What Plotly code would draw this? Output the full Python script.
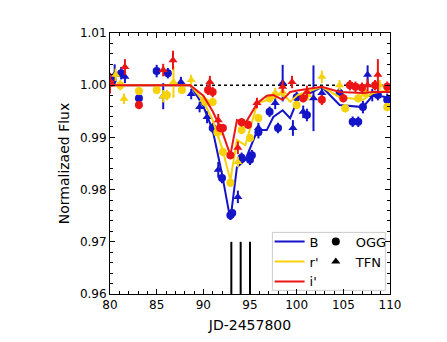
import plotly.graph_objects as go

# ---------------- model curves (lines) ----------------
model_t = [80.0, 88.6, 90.0, 91.0, 92.0, 92.9, 93.6, 94.5, 95.8, 96.8, 97.5, 98.5, 99.3, 100.1, 102.7, 104.6, 107.1, 108.2, 109.7, 110.0]
model_B = [1.0000, 1.0000, 0.9960, 0.9914, 0.9830, 0.9742, 0.9843, 0.9857, 0.9914, 0.9914, 0.9939, 0.9952, 0.9937, 0.9972, 0.9997, 0.9962, 0.9958, 0.9981, 0.9977, 0.9977]
model_r = [1.0000, 1.0000, 0.9970, 0.9933, 0.9880, 0.9818, 0.9895, 0.9885, 0.9966, 0.9972, 0.9975, 0.9985, 0.9968, 0.9981, 0.9997, 0.9977, 0.9972, 0.9985, 0.9991, 0.9991]
model_i = [1.0000, 1.0000, 0.9980, 0.9950, 0.9912, 0.9866, 0.9933, 0.9927, 0.9966, 0.9980, 0.9981, 0.9972, 0.9987, 0.9990, 0.9997, 0.9987, 0.9985, 0.9987, 0.9987, 0.9987]

# ---------------- observations ----------------
# B band, OGG (circles)
B_ogg_t = [80.3, 81.2, 83.1, 85.0, 86.2, 91.0, 92.0, 92.9, 93.1, 94.1, 95.0, 95.2, 95.9, 97.1, 98.0, 100.0, 101.1, 104.6, 106.0, 106.6, 107.1, 108.7, 109.7]
B_ogg_f = [1.0010, 1.0023, 0.9975, 1.0027, 1.0023, 0.9918, 0.9822, 0.9751, 0.9755, 0.9861, 0.9857, 0.9866, 0.9910, 0.9949, 0.9918, 0.9977, 0.9943, 0.9985, 0.9930, 0.9930, 0.9958, 0.9981, 0.9972]
B_ogg_e = [0.0012, 0.0012, 0.0010, 0.0012, 0.0010, 0.0010, 0.0010, 0.0008, 0.0008, 0.0010, 0.0010, 0.0010, 0.0012, 0.0010, 0.0010, 0.0010, 0.0012, 0.0010, 0.0010, 0.0010, 0.0012, 0.0010, 0.0012]
# B band, TFN (triangles)
B_tfn_t = [80.5, 81.6, 85.7, 87.6, 88.7, 89.6, 90.4, 91.6, 93.7, 95.9, 97.7, 98.5, 99.6, 100.7, 101.8, 102.7, 107.6, 108.1]
B_tfn_f = [1.0020, 1.0016, 0.9979, 1.0006, 0.9983, 0.9958, 0.9939, 0.9838, 0.9786, 0.9918, 0.9966, 1.0004, 0.9918, 0.9949, 0.9975, 0.9985, 1.0020, 0.9981]
B_tfn_e = [0.0020, 0.0012, 0.0025, 0.0010, 0.0010, 0.0010, 0.0012, 0.0015, 0.0012, 0.0010, 0.0012, 0.0035, 0.0015, 0.0012, 0.0063, 0.0010, 0.0018, 0.0012]

# r' band, OGG (circles)
r_ogg_t = [81.1, 83.1, 85.0, 86.1, 87.7, 90.2, 91.0, 91.5, 92.1, 92.9, 94.1, 95.0, 95.9, 97.1, 100.0, 105.2, 106.6, 107.3, 109.7]
r_ogg_f = [1.0000, 0.9989, 0.9991, 0.9981, 0.9991, 0.9968, 0.9968, 0.9910, 0.9872, 0.9813, 0.9914, 0.9899, 0.9937, 0.9975, 0.9962, 0.9956, 0.9975, 0.9985, 0.9958]
r_ogg_e = [0.0010, 0.0008, 0.0008, 0.0010, 0.0008, 0.0008, 0.0008, 0.0008, 0.0008, 0.0008, 0.0008, 0.0008, 0.0008, 0.0008, 0.0008, 0.0008, 0.0008, 0.0008, 0.0008]
# r' band, TFN (triangles)
r_tfn_t = [80.6, 81.5, 85.7, 86.8, 88.7, 90.0, 91.6, 93.7, 97.7, 98.5, 101.2, 102.7, 104.6, 108.9]
r_tfn_f = [1.0020, 0.9974, 0.9979, 1.0006, 1.0010, 0.9972, 0.9908, 0.9853, 0.9985, 0.9987, 0.9981, 1.0016, 1.0000, 1.0000]
r_tfn_e = [0.0012, 0.0010, 0.0012, 0.0030, 0.0010, 0.0010, 0.0010, 0.0010, 0.0010, 0.0010, 0.0010, 0.0012, 0.0010, 0.0010]

# i' band, OGG (circles)
i_ogg_t = [80.0, 83.1, 90.5, 91.0, 91.8, 92.1, 92.9, 94.1, 94.8, 100.7, 102.7, 105.0, 105.7, 106.3, 107.0, 108.4, 109.7]
i_ogg_f = [1.0004, 0.9962, 0.9991, 0.9987, 0.9918, 0.9918, 0.9866, 0.9929, 0.9924, 0.9975, 0.9972, 0.9975, 1.0000, 0.9997, 0.9995, 1.0000, 0.9997]
i_ogg_e = [0.0020, 0.0008, 0.0010, 0.0010, 0.0008, 0.0008, 0.0008, 0.0008, 0.0008, 0.0008, 0.0010, 0.0008, 0.0010, 0.0010, 0.0010, 0.0010, 0.0010]
# i' band, TFN (triangles)
i_tfn_t = [81.6, 85.7, 86.75, 90.7, 91.6, 93.7, 95.75, 98.5, 99.5, 101.1, 107.6, 108.7]
i_tfn_f = [1.0035, 1.0029, 1.0048, 1.0006, 0.9933, 0.9880, 0.9966, 0.9997, 1.0006, 0.9987, 1.0000, 1.0020]
i_tfn_e = [0.0015, 0.0012, 0.0018, 0.0012, 0.0012, 0.0012, 0.0010, 0.0012, 0.0012, 0.0012, 0.0012, 0.0030]

# vertical markers
event_t = [93.0, 94.0, 95.0]
event_bottom = 0.96
event_top = 0.97

band_names = ["B", "r'", "i'"]
band_colors = ["#1414c8", "#f7d20a", "#ec1515"]
station_names = ["OGG", "TFN"]

fig = go.Figure()

# reference dotted line at 1.0
fig.add_trace(go.Scatter(x=[80, 110], y=[1.0, 1.0], mode="lines",
                         line=dict(color="black", width=1.5, dash="dot"),
                         showlegend=False, hoverinfo="skip"))

models = [model_B, model_r, model_i]
obs = [
    [(B_ogg_t, B_ogg_f, B_ogg_e), (B_tfn_t, B_tfn_f, B_tfn_e)],
    [(r_ogg_t, r_ogg_f, r_ogg_e), (r_tfn_t, r_tfn_f, r_tfn_e)],
    [(i_ogg_t, i_ogg_f, i_ogg_e), (i_tfn_t, i_tfn_f, i_tfn_e)],
]
symbols = ["circle", "triangle-up"]

for k in range(3):
    col = band_colors[k]
    fig.add_trace(go.Scatter(x=model_t, y=models[k], mode="lines",
                             line=dict(color=col, width=2), showlegend=False))
    for s in range(2):
        t, f, e = obs[k][s]
        fig.add_trace(go.Scatter(
            x=t, y=f, mode="markers",
            marker=dict(symbol=symbols[s], size=8, color=col, line=dict(width=0)),
            error_y=dict(type="data", array=e, visible=True, color=col, thickness=2, width=0),
            showlegend=False))

# vertical event lines
for t in event_t:
    fig.add_trace(go.Scatter(x=[t, t], y=[event_bottom, event_top], mode="lines",
                             line=dict(color="black", width=2), showlegend=False, hoverinfo="skip"))

# legend entries
for k in range(3):
    fig.add_trace(go.Scatter(x=[None], y=[None], mode="lines", name=band_names[k],
                             line=dict(color=band_colors[k], width=2), legend="legend"))
for s in range(2):
    fig.add_trace(go.Scatter(x=[None], y=[None], mode="markers", name=station_names[s],
                             marker=dict(symbol=symbols[s], size=8, color="black"), legend="legend2"))

axis_common = dict(
    showline=True, linecolor="black", linewidth=1, mirror="ticks",
    ticks="inside", ticklen=5, tickwidth=1, tickcolor="black",
    showgrid=False, zeroline=False,
    tickfont=dict(family="DejaVu Sans", size=12, color="black"),
)

fig.update_layout(
    width=447, height=342,
    margin=dict(l=110, r=57, t=33, b=48),
    paper_bgcolor="white", plot_bgcolor="white",
    font=dict(family="DejaVu Sans", size=12, color="black"),
    xaxis=dict(range=[80, 110], tickvals=[80, 85, 90, 95, 100, 105, 110],
               minor=dict(ticks="inside", ticklen=3, tickcolor="black", dtick=1),
               title=dict(text="JD-2457800", font=dict(size=14), standoff=8),
               **axis_common),
    yaxis=dict(range=[0.96, 1.01], tickvals=[0.96, 0.97, 0.98, 0.99, 1.00, 1.01],
               ticktext=["0.96", "0.97", "0.98", "0.99", "1.00", "1.01"],
               minor=dict(ticks="inside", ticklen=3, tickcolor="black", dtick=0.002),
               title=dict(text="Normalizaed Flux", font=dict(size=14), standoff=6),
               **axis_common),
    legend=dict(x=0.57, y=0.258, xanchor="left", yanchor="top",
                bgcolor="rgba(0,0,0,0)", font=dict(size=13), tracegroupgap=0,
                itemwidth=30),
    legend2=dict(x=0.735, y=0.258, xanchor="left", yanchor="top",
                 bgcolor="rgba(0,0,0,0)", font=dict(size=13), tracegroupgap=0,
                 itemwidth=30),
    shapes=[dict(type="rect", xref="x", yref="y", x0=97.4, x1=109.5, y0=0.9607, y1=0.9718,
                 line=dict(color="#cccccc", width=1), fillcolor="white", layer="below")],
    showlegend=True,
)

fig.write_html("out.html")
